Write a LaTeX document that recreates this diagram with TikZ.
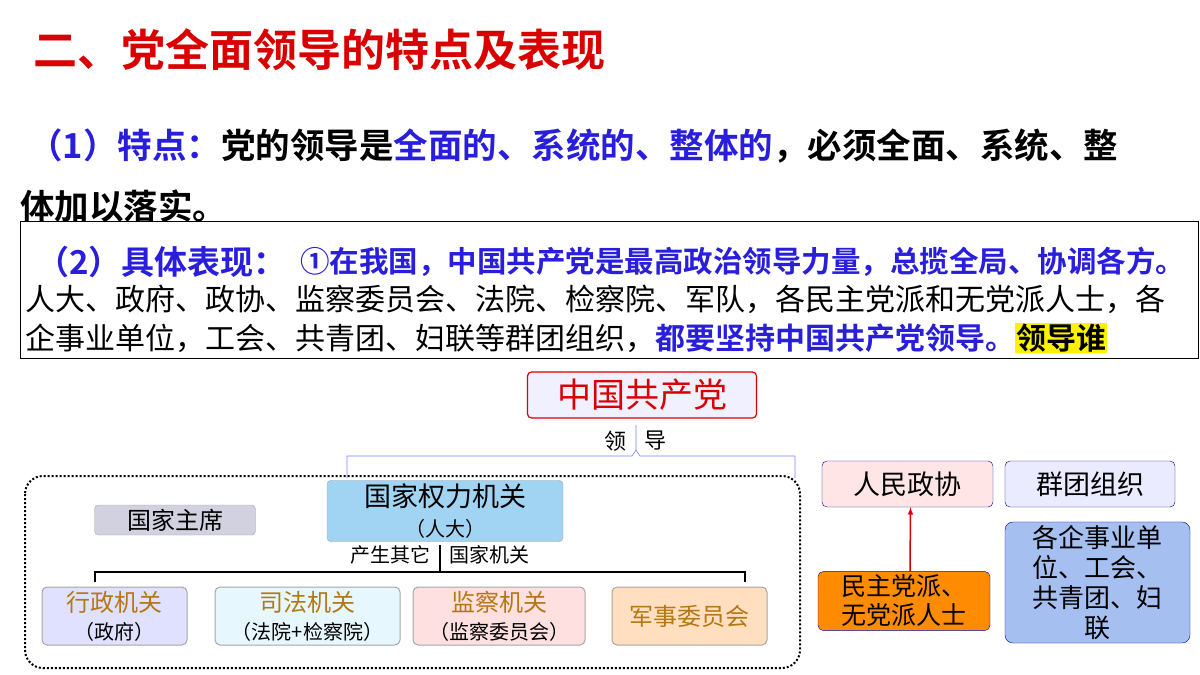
\documentclass[tikz,border=0pt]{standalone}
\usepackage{fontspec}
\newfontfamily\cjk{Noto Sans CJK SC}
\newfontfamily\cjkb{Noto Sans CJK SC Bold}
\begin{document}
\begin{tikzpicture}[x=1pt,y=-1pt,
 t/.style={inner sep=0,anchor=west},
 br/.style={draw=blue!50,line width=0.6pt}]
\useasboundingbox (0,0) rectangle (1200,675);
\definecolor{tblue}{RGB}{40,30,220}
\definecolor{gold}{RGB}{180,120,20}
\definecolor{npcb}{RGB}{160,212,242}
\definecolor{qyb}{RGB}{165,192,240}
\node[t,text=red!85!black,font=\cjkb\fontsize{44}{48}\selectfont] (title) at (33,50) {二、党全面领导的特点及表现};
\node[t,font=\cjkb\fontsize{34.5}{38}\selectfont] (l1) at (28,146) {\textcolor{tblue}{（1）特点：}党的领导是\textcolor{tblue}{全面的、系统的、整体的}，必须全面、系统、整};
\node[t,font=\cjkb\fontsize{34.5}{38}\selectfont] (l2) at (20,206) {体加以落实。};
\draw[line width=0.8pt] (20,221) rectangle (1198,358);
\node[t,font=\cjkb\fontsize{33}{36}\selectfont,text=tblue] (l3) at (36,262) {（2）具体表现：};
\node[t,font=\cjkb\fontsize{29.5}{32}\selectfont,text=tblue] (l3b) at (300,262) {①在我国，中国共产党是最高政治领导力量，总揽全局、协调各方。};
\node[t,font=\cjk\fontsize{30}{32}\selectfont] (l4) at (25,299) {人大、政府、政协、监察委员会、法院、检察院、军队，各民主党派和无党派人士，各};
\node[t,font=\cjk\fontsize{30}{32}\selectfont] (l5) at (25,338) {企事业单位，工会、共青团、妇联等群团组织，\textcolor{tblue}{\cjkb 都要坚持中国共产党领导。}\cjkb\setlength{\fboxsep}{1pt}\colorbox{yellow}{领导谁}};
% diagram
\node[draw=red!85!black,fill=blue!6,rounded corners=4pt,line width=1.2pt,minimum width=229pt,minimum height=46pt,text=red!85!black,font=\cjk\fontsize{34}{36}\selectfont] (cpc) at (642,395) {中国共产党};
\node[font=\cjk\fontsize{22}{24}\selectfont] (ling) at (615,441) {领};
\node[font=\cjk\fontsize{22}{24}\selectfont] (dao) at (655,441) {导};
\draw[br] (347,478) -- (347,456) -- (632,456) -- (636,450) -- (636,425);
\draw[br] (636,450) -- (640,456) -- (795,456) -- (795,478);
\draw[dotted,line width=2pt,rounded corners=18pt] (25,476) rectangle (800,668);
\node[draw=gray!70,fill=npcb,rounded corners=4pt,minimum width=236pt,minimum height=61pt,align=center,font=\cjk\fontsize{27}{30}\selectfont] (npc) at (445,511) {国家权力机关\\{\fontsize{20}{22}\selectfont （人大）}};
\node[draw=gray!70,fill=blue!20!gray!30,rounded corners=4pt,minimum width=161pt,minimum height=30pt,font=\cjk\fontsize{24}{26}\selectfont] (pres) at (175,520) {国家主席};
\node[font=\cjk\fontsize{20}{22}\selectfont,anchor=east] (cs) at (434,555) {产生其它};
\node[font=\cjk\fontsize{20}{22}\selectfont,anchor=west] (gj) at (446,555) {国家机关};
\draw[line width=1.5pt] (440,545) -- (440,572);
\draw[line width=1.5pt] (95,582) -- (95,572) -- (745,572) -- (745,582);
\tikzset{sub/.style={draw=gray!70,rounded corners=5pt,minimum height=58pt,align=center,font=\cjk\fontsize{24}{28}\selectfont,line width=1pt}}
\node[sub,fill=blue!12,minimum width=145pt] (xz) at (114.5,616) {\textcolor{gold}{行政机关}\\{\fontsize{20}{22}\selectfont （政府）}};
\node[sub,fill=cyan!10,minimum width=185pt] (sf) at (307.5,616) {\textcolor{gold}{司法机关}\\{\fontsize{20}{22}\selectfont （法院+检察院）}};
\node[sub,fill=red!12,minimum width=172pt] (jc) at (499,616) {\textcolor{gold}{监察机关}\\{\fontsize{20}{22}\selectfont （监察委员会）}};
\node[sub,fill=orange!25,minimum width=155pt] (js) at (689.5,616) {\textcolor{gold}{军事委员会}};
\node[draw=blue!60!black,fill=red!10,rounded corners=5pt,minimum width=171pt,minimum height=46pt,font=\cjk\fontsize{27}{30}\selectfont] (zx) at (907.5,484) {人民政协};
\node[draw=blue!60!black,fill=blue!8,rounded corners=5pt,minimum width=170pt,minimum height=46pt,font=\cjk\fontsize{27}{30}\selectfont] (qt) at (1090,484) {群团组织};
\node[draw=blue!60!black,fill=orange!90!yellow,rounded corners=5pt,minimum width=172pt,minimum height=58pt,align=center,font=\cjk\fontsize{25}{29}\selectfont] (mz) at (904,601) {民主党派、\\无党派人士};
\node[draw=blue!60!black,fill=qyb,rounded corners=8pt,minimum width=185pt,minimum height=121pt,align=center,font=\cjk\fontsize{26}{30}\selectfont] (qy) at (1097.5,582.5) {各企事业单\\位、工会、\\共青团、妇\\联};
\draw[red!85!black,line width=1.5pt,-latex] ([xshift=6pt]mz.north) -- ([xshift=3pt]zx.south);
\end{tikzpicture}
\end{document}
